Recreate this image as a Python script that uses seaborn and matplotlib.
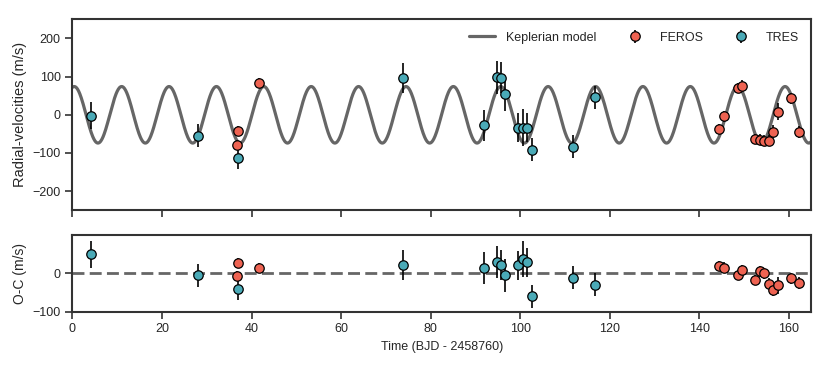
import numpy as np
import matplotlib
matplotlib.use("Agg")
import matplotlib.pyplot as plt
import seaborn as sns

# Keplerian model parameters
period = 10.58
t_peak = 0.42
K = 74.0

# FEROS radial velocities
feros_t = [36.9, 36.8, 41.7, 144.4, 145.5, 148.5, 149.4, 152.4, 153.5, 154.5, 155.5, 156.5, 157.5, 160.4, 162.3]
feros_rv = [-43, -78, 83, -37, -4, 70, 76, -63, -65, -68, -68, -44, 8, 43, -46]
feros_oc = [28, -7, 14, 20, 15, -4, 9, -17, 6, 0, -27, -44, -31, -13, -24]
feros_err = [13, 13, 13, 14, 14, 14, 14, 14, 14, 14, 14, 16, 22, 14, 16]

# TRES radial velocities
tres_t = [4.1, 28.0, 36.9, 73.9, 91.8, 94.7, 95.8, 96.7, 99.6, 100.6, 101.6, 102.7, 111.7, 116.7]
tres_rv = [-2, -55, -113, 96, -28, 98, 97, 54, -34, -34, -34, -91, -83, 46]
tres_oc = [50, -5, -40, 23, 14, 30, 22, -5, 22, 38, 29, -60, -11, -29]
tres_err = [35, 30, 30, 39, 41, 43, 40, 43, 38, 48, 38, 30, 30, 30]

feros_color = "#EE6352"
tres_color = "#4AAAB7"
model_color = "#666666"

sns.set_theme(style="ticks")
plt.rcParams["font.family"] = ["Liberation Sans", "DejaVu Sans"]
plt.rcParams["font.size"] = 9

fig, (ax1, ax2) = plt.subplots(2, 1, figsize=(8.3, 3.69), dpi=100, sharex=True,
                               gridspec_kw={"height_ratios": [2.5, 1]})
fig.subplots_adjust(left=0.0872, right=0.9776, top=0.9477, bottom=0.1553, hspace=0.187)

t_model = np.linspace(0, 165, 2000)
rv_model = K * np.cos(2 * np.pi * (t_model - t_peak) / period)
sns.lineplot(x=t_model, y=rv_model, ax=ax1, color=model_color, lw=2.3, label="Keplerian model", zorder=1)

mk = dict(fmt="o", ms=6.8, mec="black", mew=0.9, ecolor="black", elinewidth=1.2, zorder=3)
ax1.errorbar(feros_t, feros_rv, yerr=feros_err, mfc=feros_color, label="FEROS", **mk)
ax1.errorbar(tres_t, tres_rv, yerr=tres_err, mfc=tres_color, label="TRES", **mk)

ax2.axhline(0, color=model_color, lw=2.0, ls=(0, (4.3, 1.9)), zorder=1)
ax2.errorbar(feros_t, feros_oc, yerr=feros_err, mfc=feros_color, **mk)
ax2.errorbar(tres_t, tres_oc, yerr=tres_err, mfc=tres_color, **mk)

ax1.set_xlim(0, 165)
ax1.set_ylim(-250, 250)
ax1.set_yticks([-200, -100, 0, 100, 200])
ax2.set_ylim(-100, 100)
ax2.set_yticks([-100, 0])
ax2.set_xticks([0, 20, 40, 60, 80, 100, 120, 140, 160])

ax1.set_ylabel("Radial-velocities (m/s)", fontsize=10.5)
ax2.set_ylabel("O-C (m/s)", fontsize=10)
ax2.set_xlabel("Time (BJD - 2458760)", fontsize=9)

for ax in (ax1, ax2):
    for s in ax.spines.values():
        s.set_linewidth(1.5)
        s.set_color("#333333")
    ax.tick_params(width=1.2, length=5, color="#333333", labelsize=9)
ax1.tick_params(labelbottom=False)

ax1.legend(loc="upper right", ncol=3, frameon=False, fontsize=9,
           columnspacing=2.05, handlelength=2.1, handletextpad=0.9, borderaxespad=0.6)

fig.savefig("out.png", dpi=100)
